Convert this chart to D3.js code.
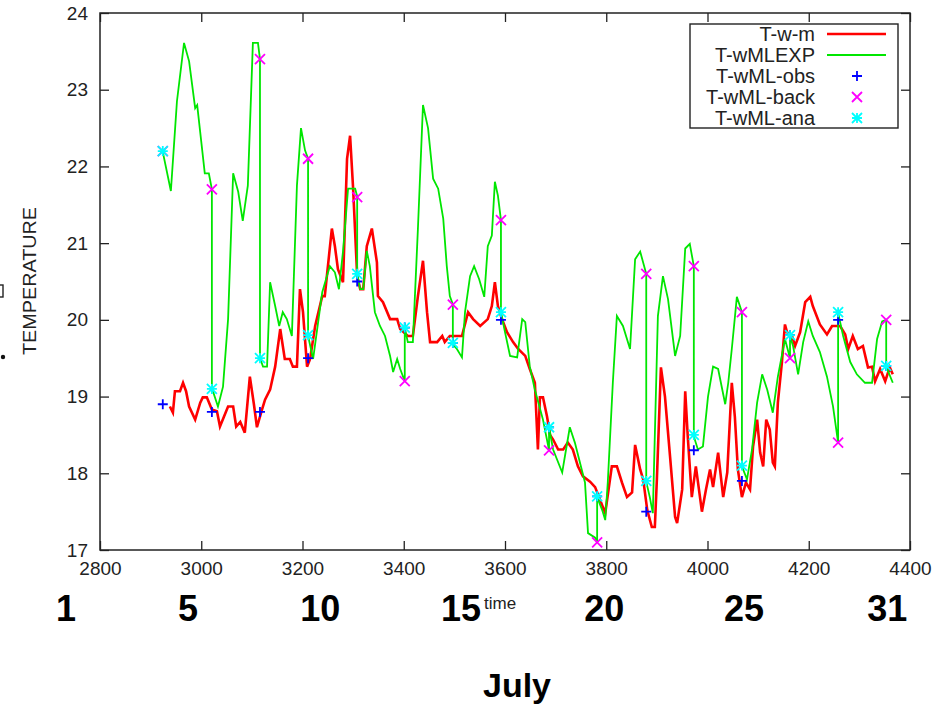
<!DOCTYPE html>
<html>
<head>
<meta charset="utf-8">
<script src="https://cdn.jsdelivr.net/npm/d3@7/dist/d3.min.js"></script>
<style>
  html, body { margin: 0; padding: 0; background: #fff; }
  svg { display: block; font-family: "Liberation Sans", Arial, sans-serif; }
  .axis text { font-size: 19px; fill: #222; }
  .axis line { stroke: #222; stroke-width: 1.3; }
  .axis path { display: none; }
</style>
</head>
<body>
<svg id="chart" width="950" height="705"></svg>
<script>
// ---- data ----
const xTicks = [2800, 3000, 3200, 3400, 3600, 3800, 4000, 4200, 4400];
const yTicks = [17, 18, 19, 20, 21, 22, 23, 24];

const dayLabels = ["1", "5", "10", "15", "20", "25", "31"];
const dayTimes = [2733, 2974, 3235, 3513, 3796, 4072, 4355];

const seriesNames = ["T-w-m", "T-wMLEXP", "T-wML-obs", "T-wML-back", "T-wML-ana"];

// T-w-m (red)
const redT = [2938, 2944, 2948, 2958, 2964, 2970, 2976, 2988, 2998, 3003, 3011, 3021, 3031, 3037, 3045, 3053, 3063, 3069, 3077, 3086,
  3096, 3104, 3110, 3120, 3126, 3136, 3146, 3156, 3165, 3175, 3181, 3189, 3195, 3201, 3209, 3215, 3225, 3239, 3244, 3258,
  3264, 3270, 3280, 3288, 3294, 3300, 3308, 3314, 3320, 3327, 3337, 3347, 3349, 3359, 3373, 3387, 3393, 3408, 3418, 3428,
  3438, 3446, 3452, 3466, 3476, 3481, 3491, 3505, 3515, 3527, 3537, 3551, 3566, 3574, 3580, 3586, 3594, 3604, 3616, 3626,
  3640, 3649, 3659, 3665, 3669, 3675, 3683, 3689, 3695, 3705, 3715, 3724, 3734, 3744, 3754, 3768, 3778, 3788, 3798, 3811,
  3821, 3831, 3841, 3851, 3857, 3867, 3873, 3881, 3890, 3896, 3900, 3908, 3916, 3926, 3936, 3940, 3950, 3956, 3961, 3969,
  3977, 3989, 3997, 4005, 4011, 4021, 4031, 4039, 4048, 4054, 4060, 4068, 4076, 4084, 4090, 4098, 4104, 4110, 4116, 4123,
  4129, 4133, 4139, 4147, 4153, 4157, 4167, 4173, 4183, 4193, 4203, 4208, 4222, 4236, 4246, 4262, 4272, 4278, 4287, 4297,
  4307, 4317, 4325, 4331, 4341, 4351, 4360, 4366];
const redV = [18.87, 18.79, 19.07, 19.07, 19.18, 19.07, 18.87, 18.70, 18.92, 18.99, 18.99, 18.83, 18.81, 18.61, 18.74, 18.87, 18.87, 18.61, 18.67, 18.53,
  19.26, 18.90, 18.60, 18.83, 18.96, 19.09, 19.39, 19.88, 19.49, 19.49, 19.39, 19.39, 20.40, 20.10, 19.39, 19.49, 19.92, 20.31, 20.31, 21.19,
  20.96, 20.66, 20.49, 22.10, 22.40, 21.71, 20.57, 20.40, 20.40, 20.96, 21.19, 20.75, 20.31, 20.23, 20.01, 20.01, 19.88, 19.79, 19.79, 20.31,
  20.77, 20.10, 19.71, 19.71, 19.79, 19.71, 19.79, 19.79, 19.79, 20.10, 20.01, 19.92, 20.01, 20.18, 20.49, 20.18, 20.01, 19.84, 19.71, 19.62,
  19.53, 19.36, 19.18, 18.31, 18.99, 18.99, 18.74, 18.50, 18.44, 18.31, 18.31, 18.40, 18.31, 18.09, 17.96, 17.89, 17.82, 17.65, 17.48, 18.09,
  18.09, 17.88, 17.69, 17.75, 18.37, 18.05, 17.92, 17.52, 17.30, 17.30, 17.92, 19.38, 19.00, 18.22, 17.43, 17.35, 17.79, 19.07, 18.48, 17.69,
  18.09, 17.50, 17.79, 18.05, 17.82, 18.27, 17.69, 18.01, 19.18, 18.74, 18.05, 17.69, 17.88, 17.79, 18.35, 18.70, 18.27, 18.09, 18.70, 18.57,
  18.14, 18.09, 18.92, 19.45, 19.94, 19.84, 19.79, 19.66, 19.84, 20.23, 20.30, 20.18, 19.94, 19.81, 19.92, 19.92, 19.81, 19.62, 19.79, 19.62,
  19.66, 19.38, 19.39, 19.20, 19.36, 19.20, 19.38, 19.29];

// T-wMLEXP (green)
const greenT = [2924, 2940, 2952, 2966, 2976, 2988, 2992, 3007, 3015, 3021,
  3021, 3033, 3043, 3053, 3063, 3073, 3082, 3092, 3102, 3112, 3116,
  3116, 3122, 3130, 3136, 3146, 3154, 3161, 3169, 3179, 3189, 3197, 3205, 3211,
  3211, 3221, 3239, 3254, 3264, 3272, 3280, 3290, 3304, 3308,
  3308, 3314, 3320, 3327, 3333, 3343, 3353, 3363, 3373, 3379, 3387, 3393, 3402,
  3402, 3408, 3418, 3428, 3438, 3448, 3458, 3468, 3478, 3485, 3491, 3497,
  3497, 3505, 3515, 3521, 3531, 3539, 3549, 3559, 3566, 3574, 3580, 3586, 3592,
  3592, 3600, 3610, 3624, 3634, 3640, 3649, 3659, 3675, 3687,
  3687, 3695, 3713, 3728, 3738, 3758, 3764, 3778, 3782,
  3782, 3792, 3798, 3803, 3813, 3821, 3833, 3847, 3857, 3867, 3879,
  3879, 3886, 3892, 3902, 3912, 3922, 3936, 3946, 3956, 3965, 3973,
  3973, 3981, 3991, 4001, 4011, 4021, 4035, 4041, 4048, 4058, 4068,
  4068, 4078, 4088, 4098, 4108, 4118, 4129, 4139, 4153, 4163,
  4163, 4169, 4179, 4189, 4199, 4208, 4222, 4236, 4248, 4258,
  4258, 4268, 4282, 4295, 4311, 4325, 4335, 4345, 4353,
  4353, 4366];
const greenV = [22.19, 21.68, 22.85, 23.61, 23.37, 22.76, 22.80, 21.91, 21.91, 21.70,
  19.11, 18.87, 19.13, 20.01, 21.91, 21.67, 21.29, 21.75, 23.61, 23.61, 23.40,
  19.50, 19.39, 19.39, 20.49, 20.18, 19.92, 20.10, 20.01, 19.79, 21.75, 22.50, 22.21, 22.10,
  19.79, 19.49, 20.36, 20.70, 20.62, 20.40, 20.89, 21.71, 21.71, 21.61,
  20.60, 20.40, 20.40, 20.90, 20.70, 20.10, 19.92, 19.79, 19.53, 19.32, 19.49, 19.36, 19.20,
  19.90, 19.71, 19.71, 21.19, 22.80, 22.50, 21.84, 21.71, 21.32, 20.70, 20.31, 20.20,
  19.68, 19.62, 19.51, 20.10, 20.57, 20.70, 20.53, 20.30, 20.96, 21.10, 21.80, 21.62, 21.30,
  20.10, 19.84, 19.53, 19.51, 20.01, 19.97, 19.39, 19.09, 18.70, 18.30,
  18.60, 18.31, 18.01, 18.60, 18.40, 17.88, 17.22, 17.16, 17.10,
  17.69, 17.52, 17.39, 17.88, 19.18, 20.05, 19.92, 19.62, 20.79, 20.89, 20.60,
  17.89, 17.69, 17.48, 20.05, 20.57, 20.27, 19.53, 19.79, 20.93, 20.99, 20.70,
  18.48, 18.31, 18.35, 19.00, 19.39, 19.36, 18.90, 19.18, 19.62, 20.30, 20.10,
  18.09, 17.92, 18.31, 18.92, 19.29, 19.09, 18.79, 19.26, 19.75, 19.50,
  19.79, 19.66, 19.29, 19.71, 19.98, 19.79, 19.58, 19.26, 18.87, 18.40,
  20.09, 19.79, 19.45, 19.29, 19.18, 19.18, 19.75, 19.98, 20.00,
  19.39, 19.18];

// assimilation markers
const markerT = [2924, 3021, 3116, 3211, 3308, 3402, 3497, 3592, 3687, 3782, 3879, 3973, 4068, 4163, 4258, 4353];
const obsV = [18.9, 18.8, 18.8, 19.5, 20.5, 19.9, 19.7, 20.0, 18.6, 17.7, 17.5, 18.3, 17.9, 19.8, 20.0, 19.4];
const backV = [22.2, 21.7, 23.4, 22.1, 21.6, 19.2, 20.2, 21.3, 18.3, 17.1, 20.6, 20.7, 20.1, 19.5, 18.4, 20.0];
const anaV = [22.2, 19.1, 19.5, 19.8, 20.6, 19.9, 19.7, 20.1, 18.6, 17.7, 17.9, 18.5, 18.1, 19.8, 20.1, 19.4];

// ---- chart ----
const Chart = {
  init() {
    const svg = d3.select('#chart');
    const left = 100, right = 910, top = 13, bottom = 550;

    const x = d3.scaleLinear().domain([2800, 4400]).range([left, right]);
    const y = d3.scaleLinear().domain([17, 24]).range([bottom, top]);
    const fmt = d3.format('d');

    // axes: ticks point inward on all four sides
    svg.append('g').attr('class', 'axis')
      .attr('transform', `translate(0,${bottom})`)
      .call(d3.axisBottom(x).tickValues(xTicks).tickFormat(fmt).tickSizeInner(-9).tickSizeOuter(0).tickPadding(12));
    svg.append('g').attr('class', 'axis')
      .attr('transform', `translate(0,${top})`)
      .call(d3.axisTop(x).tickValues(xTicks).tickSizeInner(-9).tickSizeOuter(0).tickFormat(''));
    svg.append('g').attr('class', 'axis')
      .attr('transform', `translate(${left},0)`)
      .call(d3.axisLeft(y).tickValues(yTicks).tickFormat(fmt).tickSizeInner(-9).tickSizeOuter(0).tickPadding(12));
    svg.append('g').attr('class', 'axis')
      .attr('transform', `translate(${right},0)`)
      .call(d3.axisRight(y).tickValues(yTicks).tickSizeInner(-9).tickSizeOuter(0).tickFormat(''));

    svg.append('rect')
      .attr('x', left).attr('y', top)
      .attr('width', right - left).attr('height', bottom - top)
      .attr('fill', 'none').attr('stroke', '#222').attr('stroke-width', 1.5);

    const line = d3.line().x(d => x(d[0])).y(d => y(d[1]));
    const redPts = redT.map((t, i) => [t, redV[i]]);
    const greenPts = greenT.map((t, i) => [t, greenV[i]]);

    svg.append('path').datum(redPts)
      .attr('d', line).attr('fill', 'none')
      .attr('stroke', '#ff0000').attr('stroke-width', 2.6).attr('stroke-linejoin', 'miter');
    svg.append('path').datum(greenPts)
      .attr('d', line).attr('fill', 'none')
      .attr('stroke', '#00e600').attr('stroke-width', 1.8);

    const s = 5; // half size of the point symbols
    const plus = `M${-s},0H${s}M0,${-s}V${s}`;
    const cross = `M${-s},${-s}L${s},${s}M${-s},${s}L${s},${-s}`;
    const star = plus + cross;

    const drawPoints = (vals, d, color) => {
      svg.append('g').selectAll('path')
        .data(markerT.map((t, i) => [t, vals[i]]))
        .enter().append('path')
        .attr('transform', p => `translate(${x(p[0])},${y(p[1])})`)
        .attr('d', d).attr('fill', 'none')
        .attr('stroke', color).attr('stroke-width', 1.8);
    };
    drawPoints(obsV, plus, '#0000ff');
    drawPoints(backV, cross, '#ff00ff');
    drawPoints(anaV, star, '#00ffff');

    // legend
    const lg = svg.append('g');
    lg.append('rect').attr('x', 690).attr('y', 24).attr('width', 208).attr('height', 104)
      .attr('fill', '#fff').attr('stroke', '#222').attr('stroke-width', 1.4);
    const rowY = i => 34 + i * 21;
    seriesNames.forEach((name, i) => {
      lg.append('text').attr('x', 815).attr('y', rowY(i)).attr('dy', '0.35em')
        .attr('text-anchor', 'end').attr('font-size', 20).attr('fill', '#222').text(name);
    });
    lg.append('line').attr('x1', 827).attr('x2', 886).attr('y1', rowY(0)).attr('y2', rowY(0))
      .attr('stroke', '#ff0000').attr('stroke-width', 2.6);
    lg.append('line').attr('x1', 827).attr('x2', 886).attr('y1', rowY(1)).attr('y2', rowY(1))
      .attr('stroke', '#00e600').attr('stroke-width', 1.8);
    [[plus, '#0000ff'], [cross, '#ff00ff'], [star, '#00ffff']].forEach((m, j) => {
      lg.append('path').attr('transform', `translate(857,${rowY(j + 2)})`)
        .attr('d', m[0]).attr('fill', 'none').attr('stroke', m[1]).attr('stroke-width', 1.8);
    });

    // axis titles
    svg.append('text')
      .attr('transform', 'translate(36,281) rotate(-90)')
      .attr('text-anchor', 'middle').attr('font-size', 19).attr('fill', '#222')
      .attr('textLength', 148).attr('lengthAdjust', 'spacingAndGlyphs')
      .text('TEMPERATURE');
    svg.append('text').attr('x', 484).attr('y', 609)
      .attr('font-size', 17).attr('fill', '#222').text('time');

    // clipped remains of an outer label at the left edge
    svg.append('rect').attr('x', -6).attr('y', 285).attr('width', 9).attr('height', 12)
      .attr('fill', 'none').attr('stroke', '#222').attr('stroke-width', 1.4);
    svg.append('circle').attr('cx', 3).attr('cy', 357).attr('r', 2.2).attr('fill', '#111');

    // day-of-month labels
    svg.append('g').selectAll('text')
      .data(dayLabels)
      .enter().append('text')
      .attr('x', (d, i) => x(dayTimes[i]))
      .attr('y', 621)
      .attr('text-anchor', 'middle')
      .attr('font-size', 36).attr('font-weight', 'bold').attr('fill', '#000')
      .text(d => d);
    svg.append('text').attr('x', 517).attr('y', 697)
      .attr('text-anchor', 'middle')
      .attr('font-size', 34).attr('font-weight', 'bold').attr('fill', '#000')
      .text('July');
  }
};

Chart.init();
</script>
</body>
</html>
